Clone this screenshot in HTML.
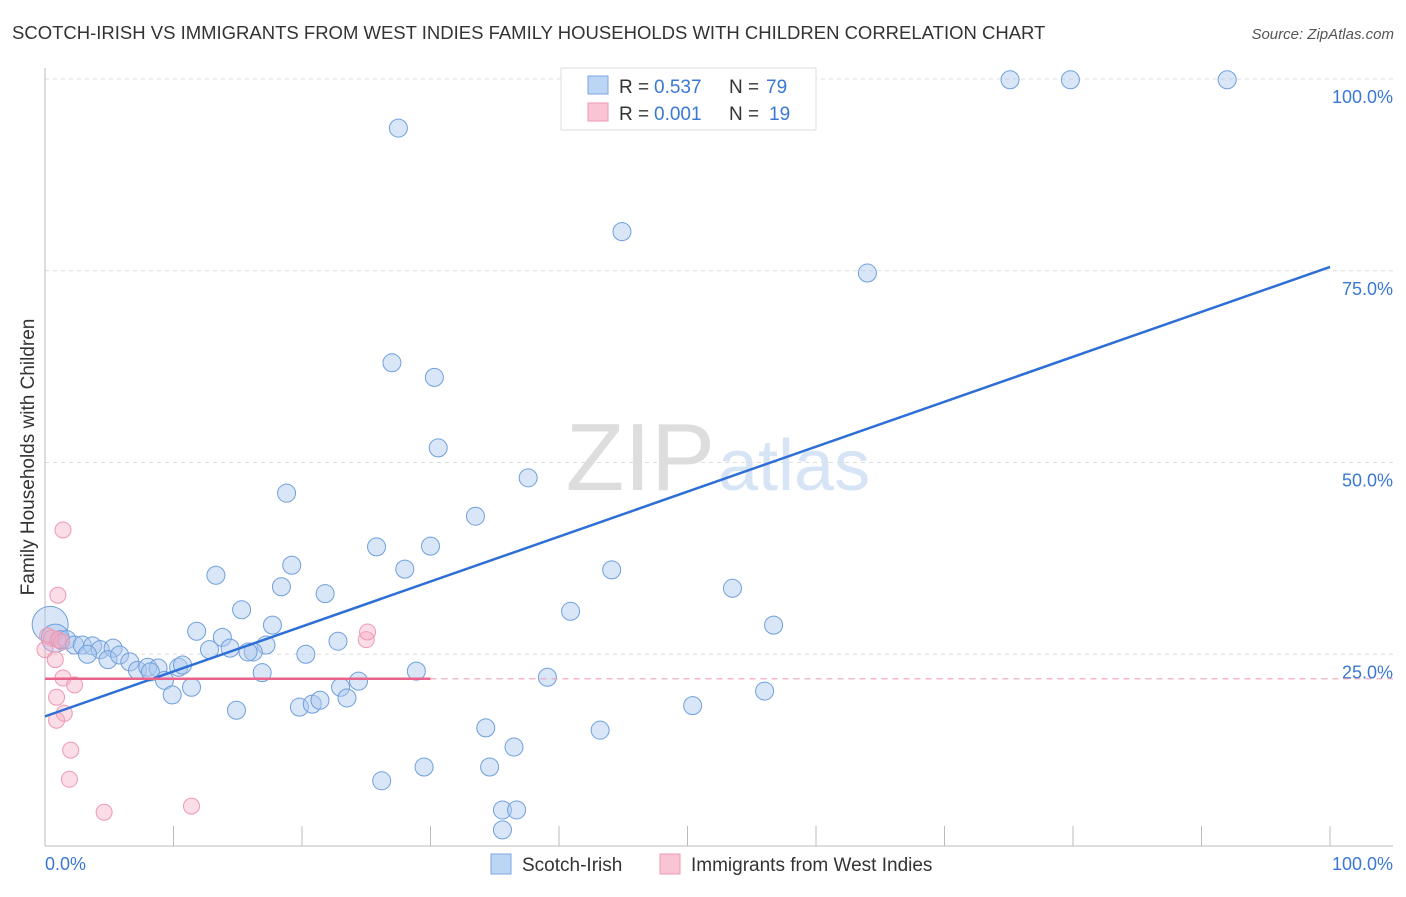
<!DOCTYPE html>
<html><head><meta charset="utf-8"><style>
body{margin:0;background:#fff;font-family:"Liberation Sans",sans-serif}
svg text{font-family:"Liberation Sans",sans-serif}
</style></head><body>
<svg id="c" width="1406" height="892">
<text x="12" y="39" font-size="18.5" fill="#333">SCOTCH-IRISH VS IMMIGRANTS FROM WEST INDIES FAMILY HOUSEHOLDS WITH CHILDREN CORRELATION CHART</text>
<text x="1394" y="39" font-size="15" fill="#555" text-anchor="end" font-style="italic">Source: ZipAtlas.com</text>
<text x="715" y="490" font-size="96" fill="#ddd" text-anchor="end" font-family="Liberation Serif">ZIP</text>
<text x="718" y="490" font-size="72" fill="#d6e4f5">atlas</text>
<g id="grid"></g><g id="pts"></g><g id="lines"></g>
<text transform="translate(34,457) rotate(-90)" font-size="19" fill="#333" text-anchor="middle">Family Households with Children</text>
<text x="45" y="870" font-size="18" fill="#3a78d4">0.0%</text>
<text x="1393" y="870" font-size="18" fill="#3a78d4" text-anchor="end">100.0%</text>
<g>
<rect x="561" y="68" width="255" height="62" fill="#fff" stroke="#ddd"/>
<rect x="588" y="76" width="20" height="18" fill="#bcd5f5" stroke="#7aa6e0"/>
<rect x="588" y="103" width="20" height="18" fill="#f9c5d4" stroke="#ee99b2"/>
<text x="619" y="93" font-size="19" fill="#333">R =</text><text x="654" y="93" font-size="19" fill="#3a78d4">0.537</text>
<text x="729" y="93" font-size="19" fill="#333">N =</text><text x="766" y="93" font-size="19" fill="#3a78d4">79</text>
<text x="619" y="120" font-size="19" fill="#333">R =</text><text x="654" y="120" font-size="19" fill="#3a78d4">0.001</text>
<text x="729" y="120" font-size="19" fill="#333">N =</text><text x="769" y="120" font-size="19" fill="#3a78d4">19</text>
</g>
<g>
<rect x="491" y="854" width="20" height="20" fill="#bcd5f5" stroke="#7aa6e0"/>
<text x="522" y="871" font-size="19" fill="#333">Scotch-Irish</text>
<rect x="660" y="854" width="20" height="20" fill="#f9c5d4" stroke="#ee99b2"/>
<text x="691" y="871" font-size="19" fill="#333">Immigrants from West Indies</text>
</g>
</svg>
<script>
const blueX=[75.1,79.8,92.0,27.5,44.9,64.0,27.0,30.3,30.6,37.6,18.8,33.5,25.8,30.0,19.2,28.0,44.1,13.3,18.4,53.5,21.8,15.3,40.9,17.7,56.7,11.8,13.8,22.8,17.2,0.4,0.8,1.2,1.7,2.3,2.9,3.7,4.3,5.3,3.3,4.9,5.8,6.6,7.2,8.0,8.8,8.2,9.3,10.4,10.7,12.8,14.4,16.2,15.8,20.3,28.9,24.4,23.0,16.9,11.4,9.9,14.9,19.8,20.8,21.4,23.5,39.1,56.0,50.4,34.3,43.2,36.5,34.6,29.5,26.2,35.6,36.7,35.6];
const blueY=[99.9,99.9,99.9,93.6,80.1,74.7,63.0,61.1,51.9,48.0,46.0,43.0,39.0,39.1,36.6,36.1,36.0,35.3,33.8,33.6,32.9,30.8,30.6,28.8,28.8,28.0,27.2,26.7,26.2,28.9,27.1,26.9,26.9,26.2,26.2,26.1,25.6,25.8,25.0,24.3,24.9,24.0,22.9,23.3,23.2,22.7,21.6,23.3,23.6,25.6,25.8,25.3,25.3,25.0,22.8,21.5,20.7,22.6,20.7,19.7,17.7,18.1,18.5,19.0,19.3,22.0,20.2,18.3,15.4,15.1,12.9,10.3,10.3,8.5,4.7,4.7,2.1];
const pinkX=[1.4,1.0,0.2,0.5,1.0,1.3,0,0.8,1.4,2.3,0.9,1.5,0.9,2.0,1.9,4.6,11.4,25.0,25.1];
const pinkY=[41.2,32.7,27.4,27.1,26.9,26.6,25.6,24.3,21.9,21.0,19.4,17.3,16.4,12.5,8.7,4.4,5.2,26.9,27.9];
const blueFit=[16.9,75.5];
const pinkFit=[21.8,21.8];
const yTicks=[25,50,75,100];
const xTicks=[0,10,20,30,40,50,60,70,80,90,100];
const sx=v=>45+v*12.85, sy=v=>846-v*7.67;
const NS="http://www.w3.org/2000/svg";
function mk(tag,attrs,parent){const e=document.createElementNS(NS,tag);for(const k in attrs)e.setAttribute(k,attrs[k]);document.getElementById(parent).appendChild(e);return e;}
yTicks.forEach(t=>{
 const l=mk('line',{x1:45,x2:1393,y1:sy(t),y2:sy(t),stroke:'#ddd','stroke-dasharray':'4,4'},'grid');
 
 
 const tx=mk('text',{x:1393,y:sy(t)+24,'font-size':18,fill:'#3a78d4','text-anchor':'end'},'grid');
 tx.textContent=t.toFixed(1)+'%';
 
 
});
xTicks.forEach(t=>{
 const l=mk('line',{x1:sx(t),x2:sx(t),y1:826,y2:846,stroke:'#bbb'},'grid');
 
 
});
const ax=mk('line',{x1:45,x2:45,y1:68,y2:846,stroke:'#bbb'},'grid');


const bx=mk('line',{x1:45,x2:1393,y1:846,y2:846,stroke:'#bbb'},'grid');


blueX.forEach((v,i)=>{
 const r=i==29?18:(i==30?14:9);
 const c=mk('circle',{cx:sx(v),cy:sy(blueY[i]),r:r,fill:'rgba(170,200,240,0.45)',stroke:'#6f9fdc','stroke-width':1},'pts');
 
 
});
pinkX.forEach((v,i)=>{
 const c=mk('circle',{cx:sx(v),cy:sy(pinkY[i]),r:8,fill:'rgba(245,170,195,0.4)',stroke:'#ee99b2','stroke-width':1},'pts');
 
 
});
const bl=mk('line',{x1:sx(0),y1:sy(blueFit[0]),x2:sx(100),y2:sy(blueFit[1]),stroke:'#2d6fd6','stroke-width':2.5},'lines');


const pl=mk('line',{x1:sx(0),y1:sy(pinkFit[0]),x2:sx(30),y2:sy(pinkFit[0]+(pinkFit[1]-pinkFit[0])*0.3),stroke:'#e8648c','stroke-width':2.5},'lines');


const pd=mk('line',{x1:sx(30),y1:sy(pinkFit[0]),x2:1393,y2:sy(pinkFit[1]),stroke:'#f0a0b8','stroke-width':1.2,'stroke-dasharray':'6,5'},'lines');


</script>
</body></html>
